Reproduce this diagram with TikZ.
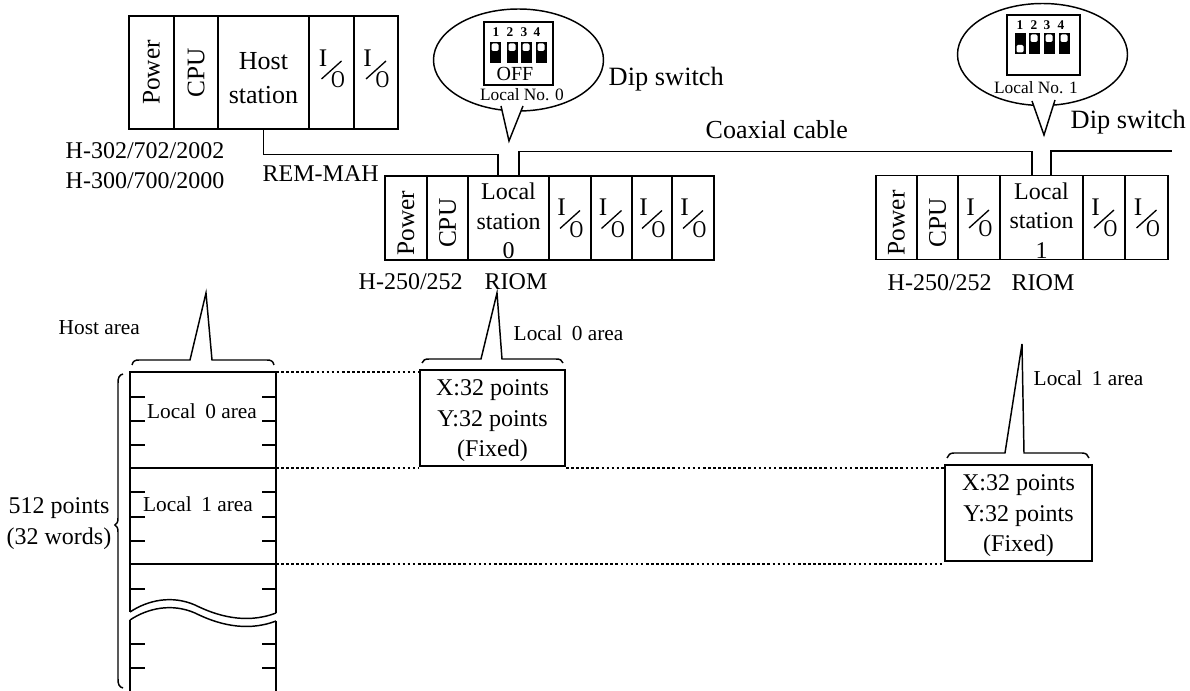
\documentclass[tikz,border=0pt]{standalone}
\usepackage{fontspec}
\setmainfont{Liberation Serif}
\usetikzlibrary{shapes.geometric,calc}
\newcommand{\iomark}[2][0]{%
  \node[iotext] (#2i) at ($(#2)+(-8.5,-14.5+#1)$) {I};
  \node[iotext] (#2o) at ($(#2)+(6.5,7.5+#1)$) {\scalebox{0.75}[0.95]{O}};
  \draw[slashline] ($(#2)+(-10,6.5+#1)$) -- ($(#2)+(10,-11.5+#1)$);
}
\newcommand{\dipsw}[3]{% x, top of switch, lever white on top (1) or below (0)
  \fill (#1-5.5,#2) rectangle (#1+5.5,#2+21);
  \ifnum#3=1
    \fill[white,rounded corners=1pt] (#1-3.5,#2+1.5) rectangle (#1+3.5,#2+9);
  \else
    \fill[white,rounded corners=1pt] (#1-3.5,#2+12) rectangle (#1+3.5,#2+19.5);
  \fi
}
\begin{document}
\begin{tikzpicture}[
  x=0.75pt, y=-0.75pt,
  line width=1.1pt,
  slot/.style={draw, inner sep=0pt, align=center, font=\fontsize{19}{22}\selectfont,
    minimum width=#1*0.75pt},
  hslot/.style={slot=#1, minimum height=84.75pt},
  zslot/.style={slot=#1, minimum height=63pt},
  ststn/.style={zslot=#1, font=\fontsize{18}{22}\selectfont},
  iotext/.style={inner sep=0pt, font=\fontsize{19}{20}\selectfont},
  thinline/.style={line width=0.9pt},
  slashline/.style={line width=1pt},
  caption/.style={inner sep=0pt, font=\fontsize{18}{23}\selectfont, align=center},
  smallcap/.style={inner sep=0pt, font=\fontsize{16}{18}\selectfont},
  dipcap/.style={inner sep=0pt, font=\fontsize{19.8}{22}\selectfont},
  dipno/.style={inner sep=0pt, font=\fontsize{13}{15}\selectfont},
  dipnum/.style={inner sep=0pt, font=\fontsize{10}{12}\selectfont\bfseries},
  bubble/.style={draw, ellipse, inner sep=0pt, fill=white, minimum width=127.5pt, minimum height=76.5pt},
  cable/.style={line width=1.1pt},
  areabox/.style={draw, line width=1.6pt, inner sep=0pt, align=center,
    font=\fontsize{18}{23}\selectfont, minimum height=72pt, minimum width=#1*0.75pt},
  dotline/.style={line width=0.8pt, dash pattern=on 2pt off 1.8pt}
]
\useasboundingbox (0,0) rectangle (1190,691);
% host rack
\node[hslot=45] (hpower) at (151.5,72.5) {\rotatebox{90}{Power}};
\node[hslot=44] (hcpu) at (196,72.5) {\rotatebox{90}{CPU}};
\node[hslot=91, font=\fontsize{19.5}{25}\selectfont] (hstation) at (263.5,72.5) {\rule{0pt}{21pt}Host\\station};
\node[hslot=45] (hio1) at (331.5,72.5) {};
\node[hslot=44] (hio2) at (376,72.5) {};
\iomark{hio1}
\iomark{hio2}
\node[caption, anchor=west] (hname1) at (65,151) {H-302/702/2002};
\node[caption, anchor=west] (hname2) at (65,181) {H-300/700/2000};
\node[caption, anchor=west] (remmah) at (262,174) {REM-MAH};
% local station 0 rack
\node[zslot=42] (zpower) at (406,218) {\rotatebox{90}{Power\hspace*{8pt}}};
\node[zslot=41] (zcpu) at (447.5,218) {\rotatebox{90}{CPU\hspace*{8pt}}};
\node[ststn=81] (zstation) at (508.5,218) {\rule{0pt}{17pt}Local\\station\\0};
\node[zslot=42] (zio1) at (570,218) {};
\node[zslot=41] (zio2) at (611.5,218) {};
\node[zslot=40] (zio3) at (652,218) {};
\node[zslot=42] (zio4) at (693,218) {};
\foreach \n in {zio1,zio2,zio3,zio4} {\iomark[4]{\n}}
\node[caption, anchor=west] (zname) at (358,282) {H-250/252};
\node[caption, anchor=west] (zriom) at (484,282) {RIOM};
% local station 1 rack
\node[zslot=41] (opower) at (896.5,217.5) {\rotatebox{90}{Power\hspace*{8pt}}};
\node[zslot=41] (ocpu) at (937.5,217.5) {\rotatebox{90}{CPU\hspace*{8pt}}};
\node[zslot=42] (oio1) at (979,217.5) {};
\node[ststn=83] (ostation) at (1041.5,217.5) {\rule{0pt}{17pt}Local\\station\\1};
\node[zslot=42] (oio2) at (1104,217.5) {};
\node[zslot=43] (oio3) at (1146.5,217.5) {};
\foreach \n in {oio1,oio2,oio3} {\iomark[4]{\n}}
\node[caption, anchor=west] (oname) at (887,283) {H-250/252};
\node[caption, anchor=west] (oriom) at (1011,283) {RIOM};
% coaxial cable
\coordinate (cableend) at (1172,151);
\draw[cable] (hstation.south) -- ++(0,25) -| ([xshift=-7.9pt]zstation.north);
\draw[cable] ([xshift=7.9pt]zstation.north) -- ++(0,-24) -| ([xshift=-7.1pt]ostation.north);
\draw[cable] ([xshift=7.1pt]ostation.north) |- (cableend);
\node[caption, anchor=west, font=\fontsize{19.5}{22}\selectfont] (coaxcap) at (705,130) {Coaxial cable};
% dip switch 0
\node[bubble] (bubz) at (518.5,60) {};
\draw[fill=white] (501,106) -- (509,141) -- (523,106);
\draw[line width=1.3pt] (484,22) rectangle (553,85);
\foreach \x/\t/\d in {495/496/1,512/510/2,526/524/3,541/537/4} {
  \node[dipnum] at (\t,32) {\d};
  \dipsw{\x}{42}{1}
}
\node[inner sep=0pt, font=\fontsize{15}{17}\selectfont] (zoff) at (515,74) {OFF};
\node[dipno] (zno) at (522,95) {Local No. 0};
\node[dipcap, anchor=west] (zdip) at (608,79) {Dip switch};
% dip switch 1
\node[bubble] (bubo) at (1042.5,54.5) {};
\draw[fill=white] (1032,101) -- (1044,135) -- (1055,100);
\draw[line width=1.3pt] (1007,15) rectangle (1080,75);
\foreach \x/\t/\d/\w in {1020/1020/1/0,1034/1034/2/1,1049/1047/3/1,1064/1061/4/1} {
  \node[dipnum] at (\t,25) {\d};
  \dipsw{\x}{33}{\w}
}
\node[dipno] (ono) at (1036,88) {Local No. 1};
\node[dipcap, anchor=west] (odip) at (1070,122) {Dip switch};
% host area column
\coordinate (coltop) at (276,372);
\coordinate (colmid) at (276,468);
\coordinate (colend) at (276,564);
\draw (130,612) -- (130,372) -- (coltop) -- (276,613);
\draw (130,468) -- (colmid);
\draw (130,564) -- (colend);
\draw (130,691) -- (130,620);
\draw (276,691) -- (276,621);
\draw (130,612) .. controls (148,600) and (172,595) .. (195,605)
  .. controls (215,615) and (245,625) .. (276,613);
\draw (130,620) .. controls (148,608) and (172,603) .. (195,613)
  .. controls (215,623) and (245,633) .. (276,621);
\foreach \y in {397,421,445,492,517,541,589,644,668} {
  \draw[thinline] (131,\y) -- (145,\y);
  \draw[thinline] (262,\y) -- (275,\y);
}
\node[smallcap] (zcolcap) at (202,411) {Local\hspace{0.45em}0 area};
\node[smallcap] (ocolcap) at (198,504) {Local\hspace{0.45em}1 area};
% braces
\draw (132,365) .. controls (133,361) and (135,360) .. (139,360) -- (190,360)
  -- (206,293) -- (212,360) -- (267,360) .. controls (271,360) and (273,361) .. (274,365);
\node[smallcap, anchor=west] (hostcap) at (58,328) {Host area};
\draw (123,374) .. controls (119,375) and (118,378) .. (118,383) -- (118,518)
  .. controls (118,522) and (117,524) .. (115,525)
  .. controls (117,526) and (118,528) .. (118,532) -- (118,679)
  .. controls (118,684) and (119,687) .. (123,688);
\node[caption] (ptscap) at (59,523.5) {512 points\\(32 words)};
% local areas
\node[areabox=145] (areaz) at (492.5,418) {\rule{0pt}{16pt}X:32 points\\Y:32 points\\(Fixed)};
\draw (422,363) .. controls (423,360) and (425,359) .. (429,359) -- (481,359)
  -- (497,293) -- (502,359) -- (556,359) .. controls (560,359) and (562,360) .. (563,363);
\node[smallcap, anchor=west] (zareacap) at (513,333) {Local\hspace{0.45em}0 area};
\node[areabox=147] (areao) at (1018.5,513) {\rule{0pt}{16pt}X:32 points\\Y:32 points\\(Fixed)};
\draw (947,458) .. controls (948,455) and (950,453) .. (954,453) -- (1005,453)
  -- (1022,344) -- (1024,453) -- (1082,453) .. controls (1086,453) and (1088,455) .. (1089,458);
\node[smallcap, anchor=west] (oareacap) at (1033,378) {Local\hspace{0.45em}1 area};
% dotted links
\draw[dotline] (coltop) -- (coltop -| areaz.west);
\draw[dotline] (colmid) -- (colmid -| areaz.west);
\draw[dotline] (colmid -| areaz.east) -- (colmid -| areao.west);
\draw[dotline] (colend) -- (colend -| areao.west);
\end{tikzpicture}
\end{document}
